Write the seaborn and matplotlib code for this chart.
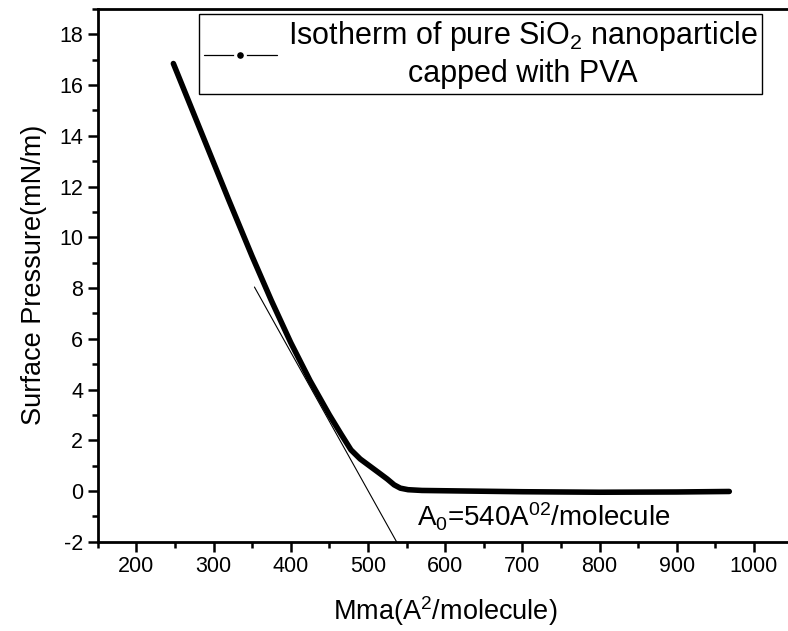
import numpy as np
import pandas as pd
import matplotlib
matplotlib.use("Agg")
import matplotlib.pyplot as plt
from matplotlib.lines import Line2D
from matplotlib.ticker import MultipleLocator
import seaborn as sns

# Surface pressure isotherm (mean molecular area vs surface pressure)
mma = [248, 280, 320, 350, 375, 400, 425, 450, 465, 478, 490, 502, 514, 525,
       534, 542, 552, 570, 620, 700, 800, 900, 968]
pressure = [16.85, 14.45, 11.45, 9.25, 7.5, 5.85, 4.35, 3.0, 2.25, 1.62, 1.26,
            0.99, 0.72, 0.47, 0.24, 0.11, 0.05, 0.02, 0.0, -0.03, -0.05, -0.04, -0.02]

# Tangent to the condensed region, extrapolated to the baseline
tangent_x = [353, 537]
tangent_y = [8.04, -2.0]

x_ticks = [200, 300, 400, 500, 600, 700, 800, 900, 1000]
y_ticks = [-2, 0, 2, 4, 6, 8, 10, 12, 14, 16, 18]

sns.set_style("ticks")
plt.rcParams["font.family"] = ["Liberation Sans", "DejaVu Sans"]
plt.rcParams["mathtext.fontset"] = "custom"
plt.rcParams["mathtext.rm"] = "Liberation Sans"
plt.rcParams["mathtext.it"] = "Liberation Sans"
plt.rcParams["axes.unicode_minus"] = False
for key in ["text.color", "axes.labelcolor", "xtick.color", "ytick.color",
            "axes.edgecolor"]:
    plt.rcParams[key] = "black"

df = pd.DataFrame({"mma": mma, "pressure": pressure})

fig = plt.figure(figsize=(7.88, 6.31), dpi=100)
ax = fig.add_axes([97.7 / 788, 1 - 541.7 / 631, (792.6 - 97.7) / 788, (541.7 - 9) / 631])

sns.lineplot(data=df, x="mma", y="pressure", ax=ax, color="black", lw=4.0,
             sort=False, estimator=None)
ax.lines[0].set_solid_capstyle("round")
ax.lines[0].set_solid_joinstyle("round")
ax.plot(tangent_x, tangent_y, color="black", lw=0.8)

ax.set_xlim(150, 1050)
ax.set_ylim(-2, 19)
ax.set_xticks(x_ticks)
ax.set_yticks(y_ticks)
ax.xaxis.set_minor_locator(MultipleLocator(50))
ax.yaxis.set_minor_locator(MultipleLocator(1))
ax.tick_params(axis="both", which="major", direction="out", length=7, width=1.8,
               labelsize=15.5, top=False, right=False)
ax.tick_params(axis="both", which="minor", direction="out", length=4, width=1.8,
               top=False, right=False)
for s in ax.spines.values():
    s.set_linewidth(2)
    s.set_color("black")

ax.set_xlabel(r"Mma(A$^{2}$/molecule)", fontsize=19.5, labelpad=12)
ax.set_ylabel("Surface Pressure(mN/m)", fontsize=19.5, labelpad=9)

ax.text(563, -1.42, r"A$_{0}$=540A$^{02}$/molecule", fontsize=20, ha="left",
        va="baseline")

handle = Line2D([], [], color="black", lw=0.9, marker="o", ms=7,
                mec="white", mew=2.2, mfc="black")
leg = fig.legend([handle], ["Isotherm of pure SiO$_{2}$ nanoparticle\ncapped with PVA"],
                 loc="upper right", bbox_to_anchor=(762 / 788, 1 - 14 / 631),
                 fontsize=22, frameon=True, fancybox=False, framealpha=1,
                 edgecolor="black", borderpad=0.15, handlelength=2.4,
                 handletextpad=0.35, borderaxespad=0, labelspacing=0.2)
leg.get_frame().set_linewidth(1.0)
for t in leg.get_texts():
    t.set_multialignment("center")
    t.set_linespacing(1.3)

fig.savefig("out.png", dpi=100)
